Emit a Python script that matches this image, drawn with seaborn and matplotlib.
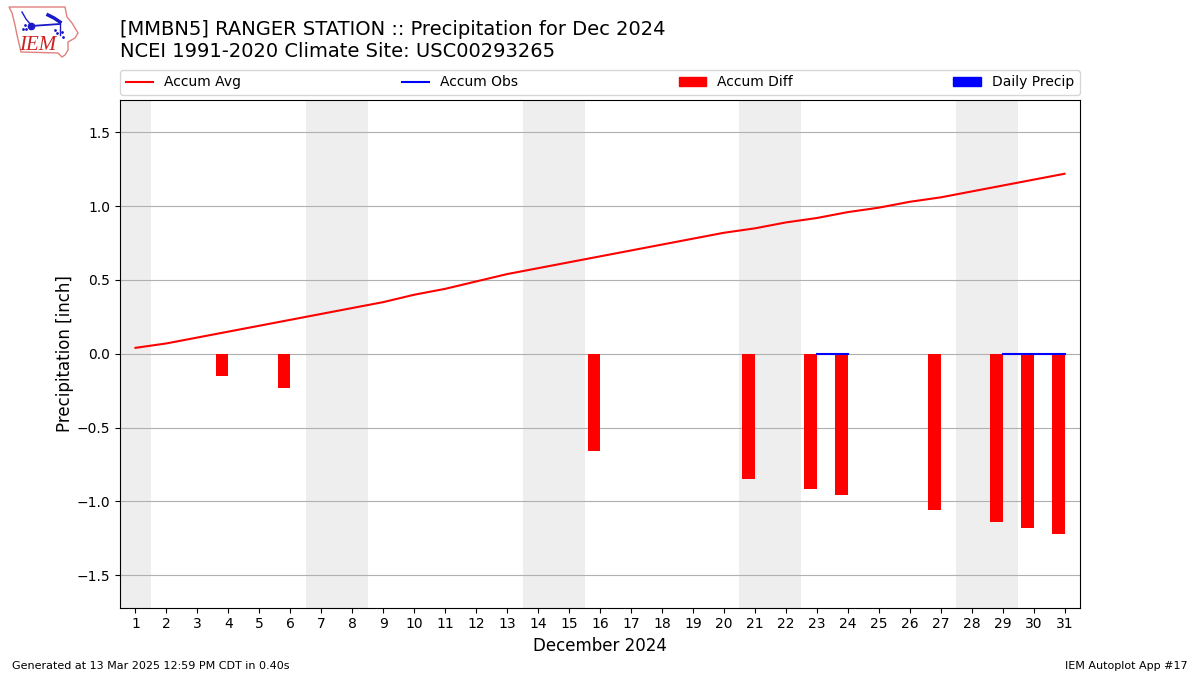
import numpy as np
import pandas as pd
import matplotlib
matplotlib.use("Agg")
import matplotlib.pyplot as plt
import seaborn as sns
from matplotlib.lines import Line2D
from matplotlib.patches import Patch, Polygon

days = list(range(1, 32))
accum_avg = [0.04, 0.07, 0.11, 0.15, 0.19, 0.23, 0.27, 0.31, 0.35, 0.40, 0.44,
             0.49, 0.54, 0.58, 0.62, 0.66, 0.70, 0.74, 0.78, 0.82, 0.85, 0.89,
             0.92, 0.96, 0.99, 1.03, 1.06, 1.10, 1.14, 1.18, 1.22]
# only the days that have an observation
obs_days = [23, 24, 29, 30, 31]
obs_run = [1, 1, 2, 2, 2]
accum_obs = [0.0, 0.0, 0.0, 0.0, 0.0]
daily_precip = [0.0, 0.0, 0.0, 0.0, 0.0]
diff_days = [4, 6, 16, 21, 23, 24, 27, 29, 30, 31]
accum_diff = [-0.15, -0.23, -0.66, -0.85, -0.92, -0.96, -1.06, -1.14, -1.18, -1.22]
weekend_starts = [1, 7, 14, 21, 28]
weekend_ends = [1, 8, 15, 22, 29]
yticks = [-1.5, -1.0, -0.5, 0.0, 0.5, 1.0, 1.5]

title = "[MMBN5] RANGER STATION :: Precipitation for Dec 2024\nNCEI 1991-2020 Climate Site: USC00293265"

fig = plt.figure(figsize=(12, 6.75), dpi=100)
ax = fig.add_axes([120 / 1200, 1 - 607.5 / 675, 960 / 1200, 507.5 / 675])

# weekends
for a, b in zip(weekend_starts, weekend_ends):
    ax.axvspan(a - 0.5, b + 0.5, color="#eeeeee", lw=0, zorder=0)

# bars sit left of the day tick
bar_width = 0.4
df_diff = pd.DataFrame({"x": np.array(diff_days) - bar_width / 2, "y": accum_diff})
sns.barplot(data=df_diff, x="x", y="y", native_scale=True, width=bar_width, color="red",
            saturation=1, linewidth=0, errorbar=None, ax=ax, zorder=2)
ax.bar(obs_days, daily_precip, width=-bar_width, align="edge", color="b", zorder=2)

sns.lineplot(x=days, y=accum_avg, color="r", errorbar=None, ax=ax, zorder=3)
sns.lineplot(x=obs_days, y=accum_obs, units=obs_run, estimator=None, color="b", ax=ax, zorder=3)

ax.set_xlim(0.5, 31.5)
ax.set_ylim(-1.72, 1.72)
ax.set_xticks(days)
ax.set_yticks(yticks)
ax.grid(True, axis="y")
ax.grid(False, axis="x")
ax.set_xlabel("December 2024", fontsize=12)
ax.set_ylabel("Precipitation [inch]", fontsize=12, labelpad=2)
ax.set_title(title, loc="left", fontsize=14, pad=31)

handles = [Line2D([], [], color="r"), Line2D([], [], color="b"), Patch(color="r"), Patch(color="b")]
labels = ["Accum Avg", "Accum Obs", "Accum Diff", "Daily Precip"]
ax.legend(handles, labels, ncol=4, mode="expand", loc="lower left",
          bbox_to_anchor=(0, 1.01, 1, 0.05), borderaxespad=0, fontsize=10)

fig.text(12 / 1200, 1 - 666 / 675, "Generated at 13 Mar 2025 12:59 PM CDT in 0.40s", fontsize=8, va="center")
fig.text(1188 / 1200, 1 - 666 / 675, "IEM Autoplot App #17", fontsize=8, ha="right", va="center")

# logo, drawn in pixel coordinates of the top left corner
logo = fig.add_axes([0, 1 - 70 / 675, 130 / 1200, 70 / 675])
logo.set_xlim(0, 130)
logo.set_ylim(70, 0)
logo.axis("off")
outline = [(9, 7), (65, 7), (67, 17), (72, 23), (78, 33), (75, 38), (68, 42), (68, 50),
           (65, 55), (62, 57), (58, 53), (21, 52), (17, 35), (15, 25), (12, 13)]
logo.add_patch(Polygon(outline, closed=True, fill=False, ec="#e08080", lw=1))
blue = "#1a1ac8"
logo.plot([31, 60], [26, 24], color=blue, lw=1.3)
logo.plot([31], [26], "o", color=blue, ms=4.5)
logo.plot([31, 26, 22], [25, 19, 12], color=blue, lw=1)
logo.plot([48, 54, 60], [15, 18, 22], color=blue, lw=2.5)
logo.plot([60, 60], [22, 35], color=blue, lw=1)
logo.plot([55, 57, 62, 63], [30, 33, 32, 37], ".", color=blue, ms=2)
logo.plot([23, 25, 26], [29, 25, 29], ".", color=blue, ms=2)
logo.text(37.5, 45, "IEM", family="Liberation Serif", style="italic", color="#cc2222",
          fontsize=15, ha="center", va="center")

fig.savefig("out.png", dpi=100)
